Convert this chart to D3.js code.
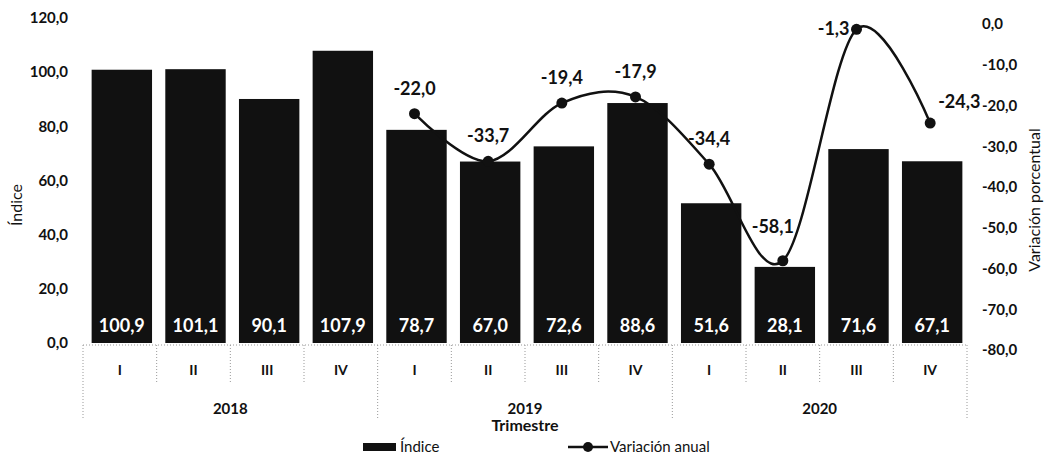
<!DOCTYPE html>
<html>
<head>
<meta charset="utf-8">
<script src="https://cdn.jsdelivr.net/npm/d3@7"></script>
<style>
  body { margin: 0; background: #fff; }
  svg { font-family: Lato, 'Open Sans', sans-serif; }
</style>
</head>
<body>
<div id="chart"></div>
<script>
// datos del gráfico
const years = ['2018', '2019', '2020']
const quarters = ['I', 'II', 'III', 'IV']
const indice = [100.9, 101.1, 90.1, 107.9, 78.7, 67.0, 72.6, 88.6, 51.6, 28.1, 71.6, 67.1]
const variacion = [null, null, null, null, -22.0, -33.7, -19.4, -17.9, -34.4, -58.1, -1.3, -24.3]
const leftTicks = [0, 20, 40, 60, 80, 100, 120]
const rightTicks = [0, -10, -20, -30, -40, -50, -60, -70, -80]
// donde va la etiqueta de cada punto
const labelPlace = [null, null, null, null, 'top', 'top', 'top', 'top', 'top', 'topleft', 'left', 'right']

const width = 1052
const height = 459

const locale = d3.formatLocale({ decimal: ',', thousands: '.', grouping: [3], currency: ['', ''], minus: '-' })
const fmt = locale.format('.1f')

const cats = []
years.forEach(y => quarters.forEach(q => cats.push({ year: y, q })))

const svg = d3.select('#chart')
  .append('svg')
  .attr('width', width)
  .attr('height', height)

const x = d3.scaleBand()
  .domain(d3.range(cats.length))
  .range([83, 967])

const yLeft = d3.scaleLinear().domain([0, 120]).range([343, 18])
const yRight = d3.scaleLinear().domain([-80, 0]).range([350, 24])

// Ejes
const axL = svg.append('g')
  .attr('transform', 'translate(70,0)')
  .call(d3.axisLeft(yLeft).tickValues(leftTicks).tickSize(0).tickPadding(2).tickFormat(fmt))
axL.select('.domain').remove()
axL.selectAll('text').attr('font-size', 15).attr('fill', '#111').attr('font-weight', 'bold').attr('font-family', 'Lato')

const axR = svg.append('g')
  .attr('transform', 'translate(980,0)')
  .call(d3.axisRight(yRight).tickValues(rightTicks).tickSize(0).tickPadding(2).tickFormat(fmt))
axR.select('.domain').remove()
axR.selectAll('text').attr('font-size', 15).attr('fill', '#111').attr('font-weight', 'bold').attr('font-family', 'Lato')

// Barras
const barW = x.bandwidth() * 0.82
svg.append('g').selectAll('rect')
  .data(indice)
  .join('rect')
  .attr('x', (d, i) => x(i) + (x.bandwidth() - barW) / 2 + 2)
  .attr('y', d => yLeft(d))
  .attr('width', barW)
  .attr('height', d => yLeft(0) - yLeft(d))
  .attr('fill', '#111')

svg.append('g').selectAll('text')
  .data(indice)
  .join('text')
  .attr('x', (d, i) => x(i) + x.bandwidth() / 2 + 2)
  .attr('y', yLeft(0) - 11)
  .attr('text-anchor', 'middle')
  .attr('fill', '#fff')
  .attr('font-size', 18)
  .attr('font-weight', 'bold')
  .text(d => fmt(d))

// Eje de categorías con separadores punteados
const cat = svg.append('g')
const sepTop = yLeft(0) + 2
for (let i = 0; i <= cats.length; i++) {
  const isYear = i % quarters.length === 0
  cat.append('line')
    .attr('x1', x(i) ?? x.range()[1])
    .attr('x2', x(i) ?? x.range()[1])
    .attr('y1', sepTop)
    .attr('y2', isYear ? 420 : 383)
    .attr('stroke', '#999')
    .attr('stroke-width', 1)
    .attr('stroke-dasharray', '1,2')
}
cat.append('line')
  .attr('x1', x.range()[0]).attr('x2', x.range()[1])
  .attr('y1', sepTop).attr('y2', sepTop)
  .attr('stroke', '#999').attr('stroke-dasharray', '1,2')

cat.selectAll('text.q')
  .data(cats)
  .join('text')
  .attr('class', 'q')
  .attr('x', (d, i) => x(i) + x.bandwidth() / 2)
  .attr('y', 375)
  .attr('text-anchor', 'middle')
  .attr('font-size', 14)
  .attr('font-weight', 'bold')
  .attr('fill', '#111')
  .text(d => d.q)

cat.selectAll('text.y')
  .data(years)
  .join('text')
  .attr('class', 'y')
  .attr('x', (d, i) => (x(i * 4) + x(i * 4 + 3) + x.bandwidth()) / 2)
  .attr('y', 414)
  .attr('text-anchor', 'middle')
  .attr('font-size', 15)
  .attr('font-weight', 'bold')
  .attr('fill', '#111')
  .text(d => d)

svg.append('text')
  .attr('x', (x(4) + x(7) + x.bandwidth()) / 2)
  .attr('y', 431)
  .attr('text-anchor', 'middle')
  .attr('font-size', 16)
  .attr('font-weight', 'bold')
  .attr('fill', '#111')
  .text('Trimestre')

// Títulos de ejes
svg.append('text')
  .attr('transform', 'translate(22,205) rotate(-90)')
  .attr('text-anchor', 'middle')
  .attr('font-size', 16)
  .attr('fill', '#111')
  .text('Índice')

svg.append('text')
  .attr('transform', 'translate(1040,200) rotate(-90)')
  .attr('text-anchor', 'middle')
  .attr('font-size', 16)
  .attr('fill', '#111')
  .text('Variación porcentual')

// Línea
const pts = variacion.map((v, i) => ({ v, i })).filter(d => d.v !== null)
const line = d3.line()
  .x(d => x(d.i) + x.bandwidth() / 2)
  .y(d => yRight(d.v))
  .curve(d3.curveCardinal.tension(0))

svg.append('path')
  .datum(pts)
  .attr('fill', 'none')
  .attr('stroke', '#111')
  .attr('stroke-width', 2.5)
  .attr('d', line)

svg.append('g').selectAll('circle')
  .data(pts)
  .join('circle')
  .attr('cx', d => x(d.i) + x.bandwidth() / 2)
  .attr('cy', d => yRight(d.v))
  .attr('r', 5.5)
  .attr('fill', '#111')

const offsets = {
  top: { dx: 0, dy: -19, anchor: 'middle' },
  topleft: { dx: -10, dy: -28, anchor: 'middle' },
  left: { dx: -7, dy: 6, anchor: 'end' },
  right: { dx: 8, dy: -15, anchor: 'start' }
}
svg.append('g').selectAll('text')
  .data(pts)
  .join('text')
  .attr('x', d => x(d.i) + x.bandwidth() / 2 + offsets[labelPlace[d.i]].dx)
  .attr('y', d => yRight(d.v) + offsets[labelPlace[d.i]].dy)
  .attr('text-anchor', d => offsets[labelPlace[d.i]].anchor)
  .attr('font-size', 18)
  .attr('font-weight', 'bold')
  .attr('fill', '#111')
  .text(d => fmt(d.v))

// Leyenda
const lg = svg.append('g')
lg.append('rect').attr('x', 363).attr('y', 443).attr('width', 33).attr('height', 8).attr('fill', '#111')
lg.append('text').attr('x', 400).attr('y', 452).attr('font-size', 15).attr('fill', '#111').text('Índice')
lg.append('line').attr('x1', 568).attr('x2', 608).attr('y1', 447).attr('y2', 447).attr('stroke', '#111').attr('stroke-width', 2.5)
lg.append('circle').attr('cx', 588).attr('cy', 447).attr('r', 5).attr('fill', '#111')
lg.append('text').attr('x', 610).attr('y', 452).attr('font-size', 15).attr('fill', '#111').text('Variación anual')
</script>
</body>
</html>
